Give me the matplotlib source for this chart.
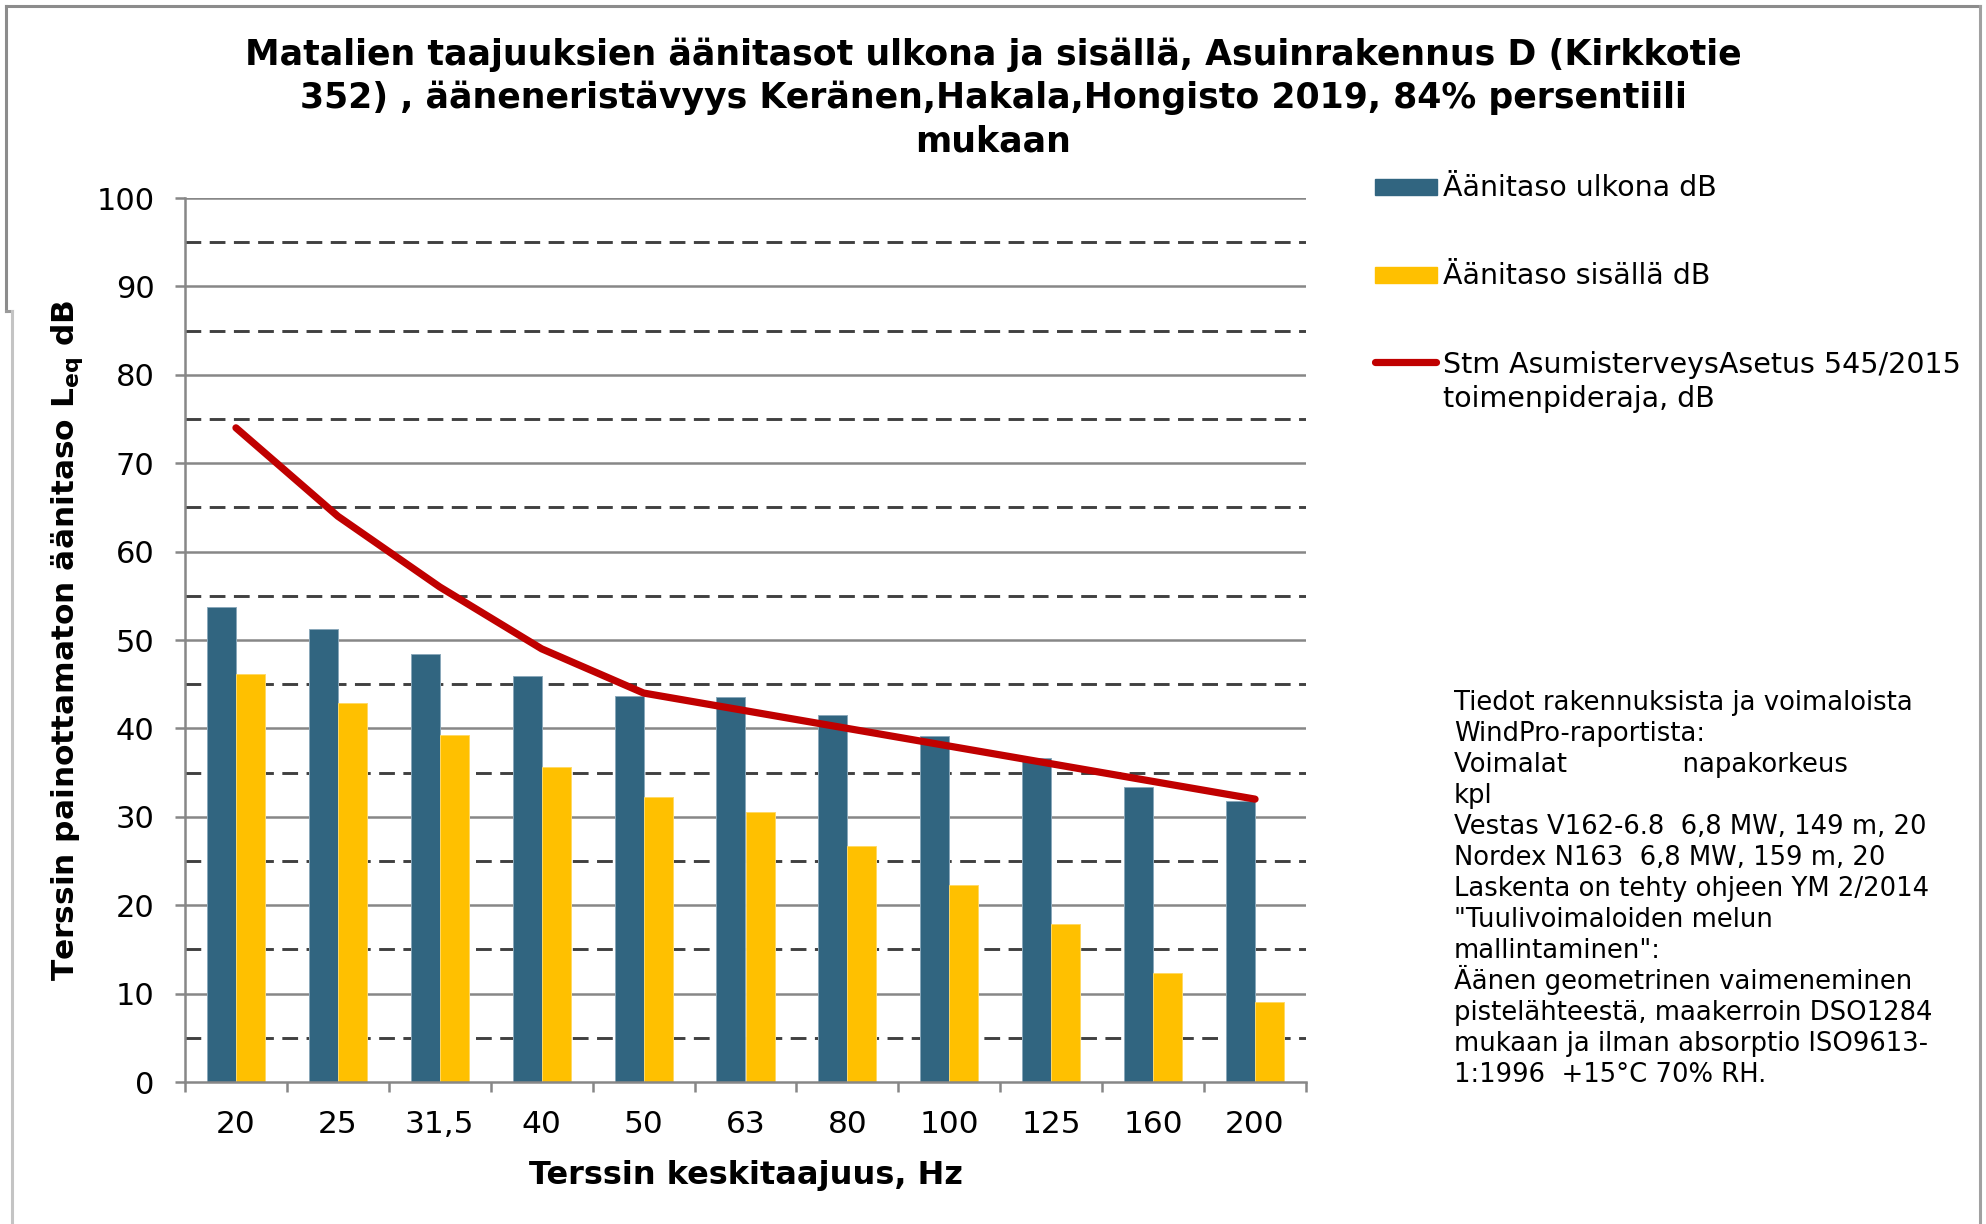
import matplotlib
matplotlib.use("Agg")
import matplotlib.pyplot as plt
from matplotlib.lines import Line2D
from matplotlib.patches import Rectangle
import numpy as np

plt.rcParams['font.family'] = ['DejaVu Sans']

# ---- data ----
categories = ["20", "25", "31,5", "40", "50", "63", "80", "100", "125", "160", "200"]
outdoor = [53.7, 51.2, 48.4, 45.9, 43.7, 43.5, 41.5, 39.1, 36.7, 33.4, 31.8]
indoor = [46.1, 42.9, 39.2, 35.6, 32.2, 30.5, 26.7, 22.3, 17.9, 12.3, 9.0]
limit = [74, 64, 56, 49, 44, 42, 40, 38, 36, 34, 32]
yticks = list(range(0, 101, 10))
ymid = list(range(5, 100, 10))

series_names = ["Äänitaso ulkona dB", "Äänitaso sisällä dB",
                "Stm AsumisterveysAsetus 545/2015\ntoimenpideraja, dB"]
title_lines = ["Matalien taajuuksien äänitasot ulkona ja sisällä, Asuinrakennus D (Kirkkotie",
               "352) , ääneneristävyys Keränen,Hakala,Hongisto 2019, 84% persentiili",
               "mukaan"]
note_lines = ["Tiedot rakennuksista ja voimaloista",
              "WindPro-raportista:",
              "Voimalat" + " " * 14 + "napakorkeus",
              "kpl",
              "Vestas V162-6.8  6,8 MW, 149 m, 20",
              "Nordex N163  6,8 MW, 159 m, 20",
              "Laskenta on tehty ohjeen YM 2/2014",
              "\"Tuulivoimaloiden melun",
              "mallintaminen\":",
              "Äänen geometrinen vaimeneminen",
              "pistelähteestä, maakerroin DSO1284",
              "mukaan ja ilman absorptio ISO9613-",
              "1:1996  +15°C 70% RH."]

C_BLUE = "#316580"
C_YEL = "#FFC000"
C_RED = "#C00000"
C_GRID = "#878787"
C_DASH = "#404040"

W, H = 1986, 1224
fig = plt.figure(figsize=(W / 100, H / 100), dpi=100)

def fx(px):
    return px / W

def fy(py):
    return 1 - py / H

ax = fig.add_axes([fx(185), fy(1082), fx(1306) - fx(185), fy(198) - fy(1082)])
x = np.arange(len(categories))
w = 0.285
ax.bar(x - w / 2, outdoor, w, color=C_BLUE, edgecolor="#8aa8ba", linewidth=0.7, zorder=2)
ax.bar(x + w / 2, indoor, w, color=C_YEL, edgecolor="#ffd966", linewidth=0.7, zorder=2)
ax.plot(x, limit, color=C_RED, lw=5.2, solid_capstyle="round", solid_joinstyle="round", zorder=3)

ax.set_xlim(-0.5, len(categories) - 0.5)
ax.set_ylim(0, 100)

for v in yticks[1:]:
    ax.axhline(v, color=C_GRID, lw=1.8, zorder=1)
for v in ymid:
    ax.axhline(v, color=C_DASH, lw=2.1, ls=(0, (5.4, 2.9)), zorder=1)

for s in ["top", "right"]:
    ax.spines[s].set_visible(False)
for s in ["left", "bottom"]:
    ax.spines[s].set_color(C_GRID)
    ax.spines[s].set_linewidth(1.8)

ax.set_yticks(yticks)
ax.set_yticklabels([str(v) for v in yticks])
ax.tick_params(axis="y", which="major", direction="out", length=7, width=1.8,
               color=C_GRID, labelsize=22, pad=15)

ax.set_xticks(np.arange(-0.5, len(categories), 1.0))
ax.set_xticklabels([])
ax.set_xticks(x, minor=True)
ax.set_xticklabels(categories, minor=True)
ax.tick_params(axis="x", which="major", direction="out", length=7, width=1.8, color=C_GRID)
ax.tick_params(axis="x", which="minor", length=0, labelsize=22.5, pad=20)

ax.set_xlabel("Terssin keskitaajuus, Hz", fontsize=23, fontweight="bold", labelpad=15)
fig.text(fx(67), fy(640), "Terssin painottamaton äänitaso L$_\\mathbf{eq}$ dB",
         rotation=90, fontsize=22.5, fontweight="bold", ha="center", va="center")

# title
for i, t in enumerate(title_lines):
    fig.text(fx(993), fy(65 + 43 * i), t, fontsize=25, fontweight="bold",
             ha="center", va="baseline")

# legend
fig.patches.append(Rectangle((fx(1375), fy(195)), fx(1437) - fx(1375), fy(179) - fy(195),
                             transform=fig.transFigure, color=C_BLUE))
fig.patches.append(Rectangle((fx(1375), fy(283)), fx(1437) - fx(1375), fy(267) - fy(283),
                             transform=fig.transFigure, color=C_YEL))
fig.lines.append(Line2D([fx(1375), fx(1436)], [fy(362), fy(362)], transform=fig.transFigure,
                        color=C_RED, lw=5.2, solid_capstyle="round"))
fig.text(fx(1443), fy(196), series_names[0], fontsize=20.5, va="baseline")
fig.text(fx(1443), fy(284), series_names[1], fontsize=20.5, va="baseline")
for i, t in enumerate(series_names[2].split("\n")):
    fig.text(fx(1443), fy(373 + 34 * i), t, fontsize=20.5, va="baseline")

# note
for i, t in enumerate(note_lines):
    fig.text(fx(1454), fy(710 + 31.0 * i), t, fontsize=18.6, va="baseline")

# outer frame
frame = [([6, 1980], [6, 6], "#8c8c8c"),
         ([6, 6], [6, 311], "#8c8c8c"),
         ([6, 12], [311, 311], "#9a9a9a"),
         ([12, 12], [311, 1224], "#c4c4c4"),
         ([1980, 1980], [6, 1224], "#a0a0a0")]
for xs, ys, c in frame:
    fig.lines.append(Line2D([fx(v) for v in xs], [fy(v) for v in ys],
                            transform=fig.transFigure, color=c, lw=2.2))

fig.savefig("out.png", dpi=100)
